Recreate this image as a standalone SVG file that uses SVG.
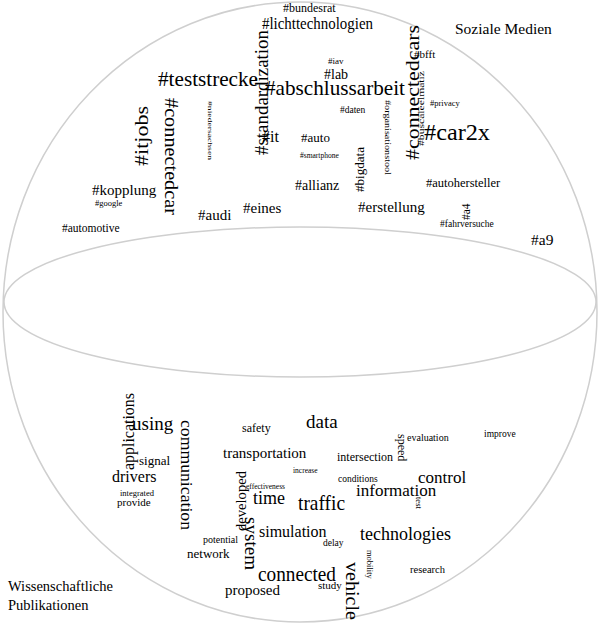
<svg xmlns="http://www.w3.org/2000/svg" width="600" height="626" viewBox="0 0 600 626">
<style>
text{font-family:"Liberation Serif","DejaVu Serif",serif;fill:#000}
.o{fill:none;stroke:#cfcfcf;stroke-width:1.5}
</style>
<rect width="600" height="626" fill="#fff"/>
<g id="sphere">
<ellipse class="o" cx="300" cy="312" rx="297" ry="310"/>
<ellipse class="o" cx="300" cy="302" rx="296" ry="75"/>
</g>
<g id="labels">
<text x="455" y="34" font-size="15.5">Soziale Medien</text>
<text x="8" y="591" font-size="14.5">Wissenschaftliche</text>
<text x="8" y="610" font-size="14.5">Publikationen</text>
</g>
<g id="social">
<text x="283" y="12" font-size="12">#bundesrat</text>
<text x="262" y="29" font-size="16" textLength="111" lengthAdjust="spacingAndGlyphs">#lichttechnologien</text>
<text x="158" y="86" font-size="20" textLength="100" lengthAdjust="spacingAndGlyphs">#teststrecke</text>
<text transform="translate(268,155) rotate(-90)" font-size="19" textLength="125" lengthAdjust="spacingAndGlyphs">#standardization</text>
<text x="265" y="95" font-size="22" textLength="140" lengthAdjust="spacingAndGlyphs">#abschlussarbeit</text>
<text x="328" y="64" font-size="9">#iav</text>
<text x="324" y="79" font-size="14">#lab</text>
<text x="414" y="58" font-size="11">#bfft</text>
<text transform="translate(419,160) rotate(-90)" font-size="18" textLength="135" lengthAdjust="spacingAndGlyphs">#connectedcars</text>
<text transform="translate(424,146) rotate(-90)" font-size="9" textLength="75" lengthAdjust="spacingAndGlyphs">#buscaleelmatiz</text>
<text x="430" y="106" font-size="8.5">#privacy</text>
<text x="340" y="113" font-size="9.5">#daten</text>
<text transform="translate(385,100) rotate(90)" font-size="8" textLength="75" lengthAdjust="spacingAndGlyphs">#organisationstool</text>
<text x="424" y="140" font-size="23" textLength="66" lengthAdjust="spacingAndGlyphs">#car2x</text>
<text x="262" y="142" font-size="16">#it</text>
<text x="301" y="142" font-size="13">#auto</text>
<text x="300" y="158" font-size="7.5">#smartphone</text>
<text transform="translate(208,101) rotate(90)" font-size="7" textLength="59" lengthAdjust="spacingAndGlyphs">#niedersachsen</text>
<text transform="translate(148,166) rotate(-90)" font-size="19" textLength="60" lengthAdjust="spacingAndGlyphs">#itjobs</text>
<text transform="translate(165,98) rotate(90)" font-size="19" textLength="117" lengthAdjust="spacingAndGlyphs">#connectedcar</text>
<text transform="translate(364,192) rotate(-90)" font-size="11.5" textLength="45" lengthAdjust="spacingAndGlyphs">#bigdata</text>
<text x="295" y="190" font-size="14">#allianz</text>
<text x="426" y="187" font-size="12.5">#autohersteller</text>
<text x="92" y="195" font-size="15">#kopplung</text>
<text x="95" y="206" font-size="8.5">#google</text>
<text x="243" y="213" font-size="15">#eines</text>
<text x="198" y="220" font-size="15">#audi</text>
<text x="358" y="212" font-size="15">#erstellung</text>
<text transform="translate(470,220) rotate(-90)" font-size="11.5">#a4</text>
<text x="440" y="227" font-size="9.5">#fahrversuche</text>
<text x="62" y="232" font-size="11.5">#automotive</text>
<text x="531" y="245" font-size="15.5">#a9</text>
</g>
<g id="science">
<text transform="translate(134,470) rotate(-90)" font-size="16" textLength="77" lengthAdjust="spacingAndGlyphs">applications</text>
<text x="132" y="430" font-size="19">using</text>
<text transform="translate(181,420) rotate(90)" font-size="17" textLength="110" lengthAdjust="spacingAndGlyphs">communication</text>
<text x="242" y="432" font-size="12">safety</text>
<text x="306" y="428" font-size="19">data</text>
<text x="223" y="458" font-size="15">transportation</text>
<text x="337" y="461" font-size="12">intersection</text>
<text transform="translate(398,434) rotate(90)" font-size="12">speed</text>
<text x="407" y="441" font-size="10">evaluation</text>
<text x="484" y="437" font-size="9.5">improve</text>
<text x="139" y="465" font-size="13">signal</text>
<text x="112" y="482" font-size="16">drivers</text>
<text x="293" y="473" font-size="7.5">increase</text>
<text x="338" y="482" font-size="9.5">conditions</text>
<text x="418" y="483" font-size="17">control</text>
<text x="356" y="496" font-size="17">information</text>
<text x="246" y="489" font-size="7.5">effectiveness</text>
<text x="120" y="496" font-size="8.5">integrated</text>
<text x="117" y="506" font-size="11">provide</text>
<text x="253" y="504" font-size="18">time</text>
<text x="298" y="510" font-size="22" textLength="47" lengthAdjust="spacingAndGlyphs">traffic</text>
<text transform="translate(416,497) rotate(90)" font-size="8.5">test</text>
<text transform="translate(246,531) rotate(-90)" font-size="14" textLength="60" lengthAdjust="spacingAndGlyphs">developed</text>
<text transform="translate(245,517) rotate(90)" font-size="19" textLength="53" lengthAdjust="spacingAndGlyphs">system</text>
<text x="259" y="537" font-size="16">simulation</text>
<text x="360" y="540" font-size="18">technologies</text>
<text x="323" y="546" font-size="9.5">delay</text>
<text x="203" y="543" font-size="10">potential</text>
<text x="187" y="558" font-size="13">network</text>
<text transform="translate(367,550) rotate(90)" font-size="8.5">mobility</text>
<text transform="translate(346,562) rotate(90)" font-size="18" textLength="58" lengthAdjust="spacingAndGlyphs">vehicle</text>
<text x="410" y="573" font-size="10.5">research</text>
<text x="258" y="581" font-size="21" textLength="78" lengthAdjust="spacingAndGlyphs">connected</text>
<text x="318" y="589" font-size="11">study</text>
<text x="225" y="595" font-size="15">proposed</text>
</g>
</svg>
